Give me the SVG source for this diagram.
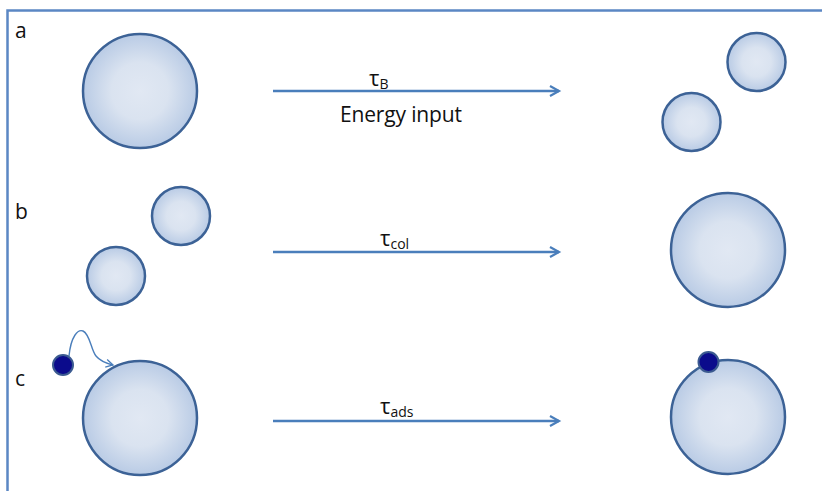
<svg xmlns="http://www.w3.org/2000/svg" width="822" height="491" viewBox="0 0 822 491">
<defs>
<radialGradient id="g" cx="0.5" cy="0.5" r="0.5">
<stop offset="0" stop-color="#e1e8f3"/>
<stop offset="0.5" stop-color="#dae3f0"/>
<stop offset="1" stop-color="#b9cbe5"/>
</radialGradient>
<marker id="ah" markerWidth="14" markerHeight="14" refX="10" refY="6" orient="auto" markerUnits="userSpaceOnUse">
<path d="M1,1 L10,6 L1,11" fill="none" stroke="#4a7ebb" stroke-width="2.2"/>
</marker>
<marker id="ah2" markerWidth="12" markerHeight="12" refX="8" refY="5" orient="auto" markerUnits="userSpaceOnUse">
<path d="M1,1 L8,5 L1,9" fill="none" stroke="#4a7ebb" stroke-width="1.3"/>
</marker>
</defs>
<style>
.p{fill:url(#g);stroke:#3c6296;stroke-width:2.5}
.d{fill:#0b0b8c;stroke:#3b5a90;stroke-width:2}
.c{stroke:#4a7ebb;stroke-width:2.4;fill:none;marker-end:url(#ah)}
.t{font-family:"Open Sans","Liberation Sans",sans-serif;fill:#111}
.lab{font-size:21px}
.tau{font-size:22px}
.sub{font-size:14px}
</style>
<rect x="0" y="0" width="822" height="491" fill="#fff"/>
<path d="M7.5,491 V10.5 H822" fill="none" stroke="#5b87c4" stroke-width="2.5"/>
<g id="labels">
<text class="t lab" x="15" y="38">a</text>
<text class="t lab" x="15" y="219">b</text>
<text class="t lab" x="15" y="386">c</text>
</g>
<g id="connectors">
<line class="c" x1="273" y1="91" x2="559" y2="91"/>
<line class="c" x1="273" y1="252" x2="559" y2="252"/>
<line class="c" x1="273" y1="421" x2="559" y2="421"/>
<path d="M69,356 C71,336 78,329 83,331 C90,334 91,350 96,356 C100,361 105,363 113,365" fill="none" stroke="#4a7ebb" stroke-width="1.4" marker-end="url(#ah2)"/>
</g>
<g id="row-a-labels">
<text class="t tau" x="369" y="86">τ<tspan class="sub" dy="3">B</tspan></text>
<text class="t lab" x="340" y="122" textLength="122">Energy input</text>
</g>
<g id="row-b-labels">
<text class="t tau" x="380" y="246">τ<tspan class="sub" dy="3">col</tspan></text>
</g>
<g id="row-c-labels">
<text class="t tau" x="380" y="414">τ<tspan class="sub" dy="3">ads</tspan></text>
</g>
<g id="a-left"><circle class="p" cx="140" cy="91" r="57"/></g>
<g id="a-right-1"><circle class="p" cx="756.5" cy="62" r="29"/></g>
<g id="a-right-2"><circle class="p" cx="691.5" cy="122" r="29"/></g>
<g id="b-left-1"><circle class="p" cx="181" cy="216" r="29"/></g>
<g id="b-left-2"><circle class="p" cx="116" cy="276" r="29"/></g>
<g id="b-right"><circle class="p" cx="728" cy="250" r="57"/></g>
<g id="c-left"><circle class="p" cx="140" cy="418" r="57"/></g>
<g id="c-particle"><circle class="d" cx="63" cy="365" r="10"/></g>
<g id="c-right"><circle class="p" cx="728" cy="417" r="57"/></g>
<g id="c-right-particle"><circle class="d" cx="708.5" cy="362" r="10"/></g>
</svg>
